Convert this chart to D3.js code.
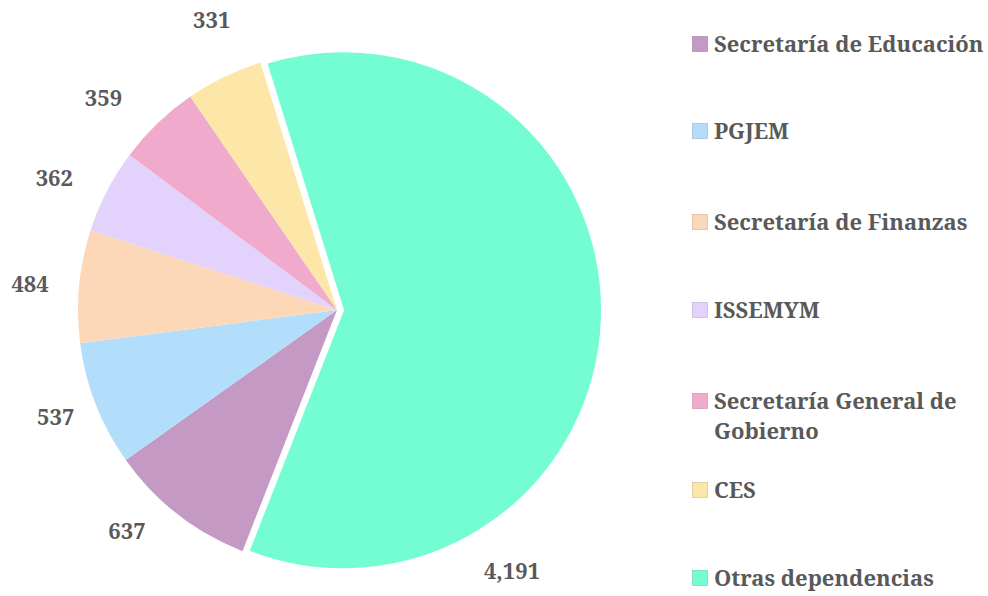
<!DOCTYPE html>
<html><head><meta charset="utf-8">
<script src="https://cdn.jsdelivr.net/npm/d3@7"></script>
<style>
html,body{margin:0;padding:0;background:#fff;}
svg{display:block;}
</style>
</head><body>
<svg id="chart" width="988" height="596"></svg>
<script>
const categories = ["Secretaría de Educación","PGJEM","Secretaría de Finanzas","ISSEMYM","Secretaría General de Gobierno","CES","Otras dependencias"];
const values = [637, 537, 484, 362, 359, 331, 4191];
const valueLabels = ["637","537","484","362","359","331","4,191"];
const colors = ["#c49ac4","#b3defb","#fdd8b8","#e3d2fb","#f0abcc","#fde7a8","#74fdd3"];
const legendLines = [["Secretaría de Educación"],["PGJEM"],["Secretaría de Finanzas"],["ISSEMYM"],["Secretaría General de","Gobierno"],["CES"],["Otras dependencias"]];

const FONT = "'Noto Serif','Liberation Serif',serif";
const TEXT = "#595959";
const svg = d3.select("#chart");
const cx = 337, cy = 310, R = 259;
const deg = Math.PI/180;
const start = 201.4*deg;

const pie = d3.pie().sort(null).value(d=>d).startAngle(start).endAngle(start+2*Math.PI);
const arcs = pie(values);
const arc = d3.arc().innerRadius(0).outerRadius(R);
const explode = [0,0,0,0,0,0,6];
// label placement tweaks (angle offset in degrees, radius)
const labelAdj = [[5.5,305],[0.5,301],[-0.5,308],[-2.3,312],[-4,315],[2.5,316],[55,311]];

const g = svg.append("g").attr("transform",`translate(${cx},${cy})`);
g.selectAll("path").data(arcs).enter().append("path")
  .attr("d",arc)
  .attr("fill",(d,i)=>colors[i])
  .attr("transform",(d,i)=>{const m=(d.startAngle+d.endAngle)/2;return `translate(${explode[i]*Math.sin(m)},${-explode[i]*Math.cos(m)})`;})
  .attr("stroke",(d,i)=>i===6?"#fff":"none")
  .attr("stroke-width",(d,i)=>i===6?2:0);

g.selectAll("text.lbl").data(arcs).enter().append("text")
  .attr("class","lbl")
  .attr("x",(d,i)=>{const m=(d.startAngle+d.endAngle)/2+labelAdj[i][0]*deg;return labelAdj[i][1]*Math.sin(m)+explode[i]*Math.sin((d.startAngle+d.endAngle)/2);})
  .attr("y",(d,i)=>{const m=(d.startAngle+d.endAngle)/2+labelAdj[i][0]*deg;return -labelAdj[i][1]*Math.cos(m);})
  .attr("dy","0.35em")
  .attr("text-anchor","middle")
  .attr("font-family",FONT).attr("font-weight","bold").attr("font-size",22)
  .attr("fill",TEXT)
  .text((d,i)=>valueLabels[i]);

const legY = [44,131,222,310,401,490,578];
const lg = svg.append("g");
categories.forEach((c,i)=>{
  lg.append("rect").attr("x",692.5).attr("y",legY[i]-7.5).attr("width",15).attr("height",15)
    .attr("fill",colors[i]).attr("stroke",d3.color(colors[i]).darker(0.6)).attr("stroke-width",0.6);
  const t = lg.append("text").attr("x",714).attr("y",legY[i])
    .attr("font-family",FONT).attr("font-weight","bold").attr("font-size",22).attr("fill",TEXT);
  legendLines[i].forEach((ln,j)=>{
    t.append("tspan").attr("x",714).attr("dy", j===0?"0.35em":"30px").text(ln);
  });
});
</script>
</body></html>
